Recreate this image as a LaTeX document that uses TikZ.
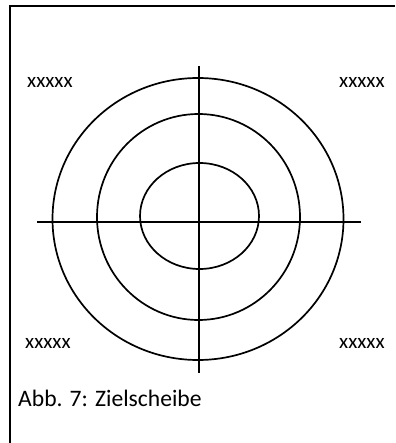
\documentclass[tikz,border=0pt]{standalone}
\usepackage{fontspec}
\setmainfont{Carlito}
\begin{document}
\begin{tikzpicture}[x=1pt,y=-1pt,
  ring/.style={line width=1.7pt},
  axis/.style={line width=1.7pt},
  frameline/.style={line width=2pt},
  lbl/.style={inner sep=0pt,anchor=base west,font=\fontsize{21}{24}\selectfont},
  captext/.style={inner sep=0pt,anchor=base west,font=\fontsize{23.6}{27}\selectfont}]
\useasboundingbox (0,0) rectangle (395,443);
% frame (top and left edges visible)
\coordinate (fbl) at (9.5,443);
\coordinate (ftl) at (9.5,6);
\coordinate (ftr) at (395,6);
\draw[frameline] (fbl) -- (ftl) -- (ftr);
% rings
\coordinate (co) at (198,219);
\coordinate (cm) at (198.5,217);
\coordinate (ci) at (199.5,216);
\draw[ring] (co) ellipse [x radius=145.5, y radius=141];
\draw[ring] (cm) ellipse [x radius=101.5, y radius=103];
\draw[ring] (ci) ellipse [x radius=59.5, y radius=53];
% axes
\coordinate (vt) at (199,66);
\coordinate (vb) at (199,373);
\coordinate (hl) at (37,222);
\coordinate (hr) at (361,222);
\draw[axis] (vt) -- (vb);
\draw[axis] (hl) -- (hr);
% labels
\node[lbl] (tl) at (27,87.3) {xxxxx};
\node[lbl] (tr) at (339,87.3) {xxxxx};
\node[lbl] (bl) at (25,348.3) {xxxxx};
\node[lbl] (br) at (339,348.3) {xxxxx};
\node[captext] (caption) at (18,406) {Abb. 7: Zielscheibe};
\end{tikzpicture}
\end{document}
